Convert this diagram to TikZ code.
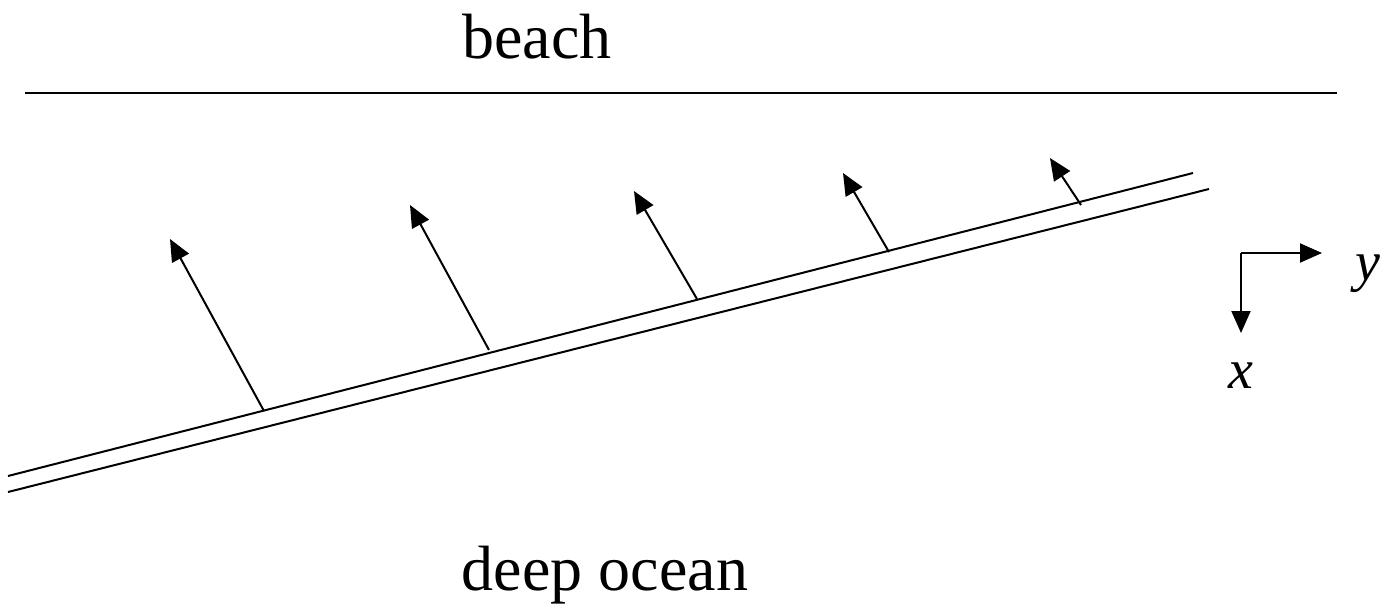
\documentclass[tikz,border=0pt]{standalone}
\usepackage{fontspec}
\setmainfont{Liberation Serif}
\usetikzlibrary{arrows.meta}

\begin{document}
\begin{tikzpicture}[
    x=1pt, y=-1pt,
    line width=2pt,
    vec/.style={-{Triangle[length=22pt, width=19pt]}},
    txt/.style={font=\fontsize{64}{76}\selectfont, anchor=base, inner sep=0pt},
    axlabel/.style={font=\fontsize{56}{66}\selectfont\itshape, anchor=base, inner sep=0pt}
]
  \useasboundingbox (0,0) rectangle (1385,603);

  % Shoreline
  \node[txt] (beach) at (537,58) {beach};
  \coordinate (shoreL) at (25,93);
  \coordinate (shoreR) at (1337,93);
  \draw (shoreL) -- (shoreR);

  % Double line of the front
  \coordinate (upL) at (8,476);
  \coordinate (upR) at (1193,173);
  \coordinate (loL) at (8,492);
  \coordinate (loR) at (1209,189);
  \draw (upL) -- (upR);
  \draw (loL) -- (loR);

  % Arrows normal to the front
  \foreach \bx/\by/\tx/\ty [count=\i] in
      {264/411/170/239, 489/350/410/205, 697/299/634/191,
       889/252/843/173, 1081/205/1050/158} {
    \coordinate (base\i) at (\bx,\by);
    \coordinate (tip\i) at (\tx,\ty);
    \draw[vec] (base\i) -- (tip\i);
  }

  % Axes
  \coordinate (orig) at (1241,253);
  \coordinate (yend) at (1322,253);
  \coordinate (xend) at (1241,333);
  \draw[vec] (orig) -- (yend);
  \draw[vec] (orig) -- (xend);
  \node[axlabel] (xlab) at (1241,388) {x};
  \node[axlabel, anchor=base west] (ylab) at (1354,280) {y};

  \node[txt] (ocean) at (605,590) {deep ocean};
\end{tikzpicture}
\end{document}
